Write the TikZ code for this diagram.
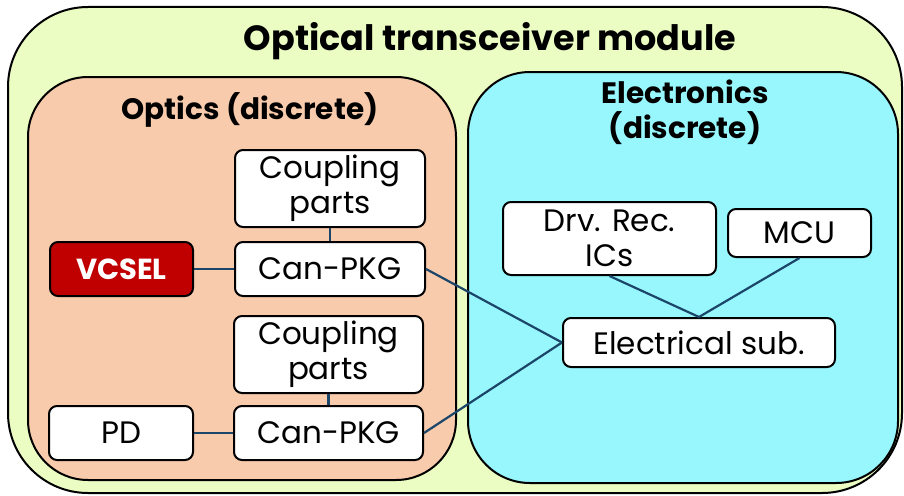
\documentclass[tikz,border=0pt]{standalone}
\usepackage{fontspec}
\setmainfont{Poppins}
\usepackage{xcolor}
\usetikzlibrary{positioning}

\definecolor{modfill}{HTML}{EBFDC2}
\definecolor{optfill}{HTML}{F8CBAD}
\definecolor{elefill}{HTML}{98F7FD}
\definecolor{vcselred}{HTML}{C00000}
\definecolor{linkblue}{HTML}{1B4569}

\begin{document}
\begin{tikzpicture}[x=1pt, y=-1pt,
  group/.style={draw, line width=2pt, inner sep=0pt},
  part/.style={draw, line width=2pt, rounded corners=8pt, fill=white, align=center,
               inner sep=0pt, font=\fontsize{31}{35}\selectfont},
  head/.style={font=\fontsize{29.5}{35}\selectfont\bfseries, align=center},
  link/.style={draw=linkblue, line width=2.2pt}
]
\useasboundingbox (0,0) rectangle (904,495);

%% Containers
\node[group, rounded corners=80pt, fill=modfill, minimum width=894, minimum height=486]
  (module) at (455,250) {};
\node[group, rounded corners=60pt, fill=optfill, minimum width=428, minimum height=403]
  (optics) at (242,278.5) {};
\node[group, rounded corners=62pt, fill=elefill, minimum width=430, minimum height=411]
  (electronics) at (683,277.5) {};

\node[head, font=\fontsize{35}{40}\selectfont\bfseries] (tmodule) at (490,41) {Optical transceiver module};
\node[head] (toptics) at (250,110) {Optics (discrete)};
\node[head] (telec) at (685,112) {Electronics\\(discrete)};

%% Optics parts
\node[part, minimum width=190, minimum height=77] (coup1) at (330,188.5) {Coupling\\parts};
\node[part, minimum width=190, minimum height=54] (can1) at (330,269) {Can-PKG};
\node[part, fill=vcselred, text=white, font=\fontsize{29}{33}\selectfont\bfseries,
      minimum width=143, minimum height=54] (vcsel) at (121.5,269) {VCSEL};
\node[part, minimum width=189, minimum height=77] (coup2) at (328.5,354.5) {Coupling\\parts};
\node[part, minimum width=189, minimum height=54] (can2) at (328.5,433) {Can-PKG};
\node[part, minimum width=144, minimum height=54] (pd) at (121,433) {PD};

%% Electronics parts
\node[part, minimum width=213, minimum height=73] (drv) at (609.5,238.5) {Drv. Rec.\\ICs};
\node[part, minimum width=143, minimum height=48] (mcu) at (799.5,233) {MCU};
\node[part, minimum width=272, minimum height=49] (esub) at (699,342.5) {Electrical sub.};

%% Links
\draw[link] (vcsel) -- (can1);
\draw[link] (coup1) -- (can1);
\draw[link] (coup2) -- (can2);
\draw[link] (pd) -- (can2);
\draw[link] (can1.east) -- (esub.west);
\draw[link] (can2.east) -- (esub.west);
\draw[link] (drv.south) -- (esub.north);
\draw[link] (mcu.south) -- (esub.north);
\end{tikzpicture}
\end{document}
